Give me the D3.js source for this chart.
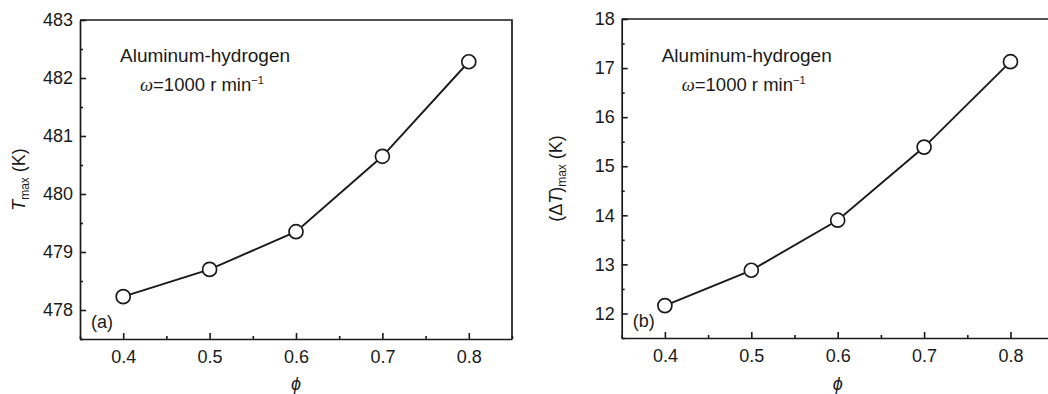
<!DOCTYPE html>
<html>
<head>
<meta charset="utf-8">
<script src="https://cdn.jsdelivr.net/npm/d3@7"></script>
<style>
  html, body { margin: 0; padding: 0; background: #fff; }
  svg { display: block; }
  text { font-family: "Liberation Sans", Arial, sans-serif; fill: #1a1a1a; }
</style>
</head>
<body>
<svg id="chart" width="1048" height="394"></svg>
<script>
// ---- data ----
const phi = [0.4, 0.5, 0.6, 0.7, 0.8];
const tMax = [478.23, 478.70, 479.35, 480.65, 482.28];
const dTMax = [12.16, 12.88, 13.90, 15.39, 17.13];
const xTicks = [0.4, 0.5, 0.6, 0.7, 0.8];
const yTicksA = [478, 479, 480, 481, 482, 483];
const yTicksB = [12, 13, 14, 15, 16, 17, 18];
const annotLine1 = "Aluminum-hydrogen";
const panelLabels = ["(a)", "(b)"];

const svg = d3.select("#chart");
const ink = "#1a1a1a";

function panel(opts) {
  const { left, right, top, bottom, yDomain, yTicks, values, label, yLabel } = opts;
  const x = d3.scaleLinear().domain([0.35, 0.85]).range([left, right]);
  const y = d3.scaleLinear().domain(yDomain).range([bottom, top]);
  const g = svg.append("g");

  // frame (top and right)
  g.append("path")
    .attr("d", `M${left},${top}H${right}V${bottom}`)
    .attr("fill", "none").attr("stroke", ink).attr("stroke-width", 1.7);

  // minor ticks
  const xMinor = d3.range(0.35, 0.851, 0.05).filter(v => !xTicks.some(t => Math.abs(t - v) < 1e-6));
  const yMinor = d3.range(yDomain[0], yDomain[1] + 0.001, 0.5).filter(v => !yTicks.some(t => Math.abs(t - v) < 1e-6));
  g.append("g").attr("transform", `translate(0,${bottom})`)
    .call(d3.axisBottom(x).tickValues(xMinor).tickSize(-3).tickFormat(""))
    .call(s => s.select(".domain").remove())
    .selectAll("line").attr("stroke", ink).attr("stroke-width", 1.6);
  g.append("g").attr("transform", `translate(${left},0)`)
    .call(d3.axisLeft(y).tickValues(yMinor).tickSize(-3).tickFormat(""))
    .call(s => s.select(".domain").remove())
    .selectAll("line").attr("stroke", ink).attr("stroke-width", 1.6);

  // major axes
  const xa = g.append("g").attr("transform", `translate(0,${bottom})`)
    .call(d3.axisBottom(x).tickValues(xTicks).tickSize(-6).tickSizeOuter(0).tickPadding(11).tickFormat(d3.format(".1f")));
  const ya = g.append("g").attr("transform", `translate(${left},0)`)
    .call(d3.axisLeft(y).tickValues(yTicks).tickSize(-6).tickSizeOuter(0).tickPadding(7).tickFormat(d3.format("d")));
  [xa, ya].forEach(a => {
    a.select(".domain").attr("stroke", ink).attr("stroke-width", 1.7);
    a.selectAll("line").attr("stroke", ink).attr("stroke-width", 1.6);
    a.selectAll("text").attr("font-size", 18).attr("fill", ink)
      .attr("font-family", "'Liberation Sans', Arial, sans-serif");
  });

  // line + markers
  const pts = phi.map((p, i) => [p, values[i]]);
  g.append("path").datum(pts)
    .attr("d", d3.line().x(d => x(d[0])).y(d => y(d[1])))
    .attr("fill", "none").attr("stroke", ink).attr("stroke-width", 1.9);
  g.selectAll("circle").data(pts).join("circle")
    .attr("cx", d => x(d[0])).attr("cy", d => y(d[1])).attr("r", 7)
    .attr("fill", "#fff").attr("stroke", ink).attr("stroke-width", 1.7);

  // annotation
  const ann = g.append("text").attr("x", left + 40).attr("y", 62).attr("font-size", 19);
  ann.text(annotLine1);
  const ann2 = g.append("text").attr("x", left + 60).attr("y", 91).attr("font-size", 18.5);
  ann2.append("tspan").attr("font-family", "'Liberation Serif', 'Times New Roman', serif")
    .attr("font-style", "italic").text("ω");
  ann2.append("tspan").text("=1000 r min");
  ann2.append("tspan").attr("font-size", 11).attr("dy", -7).text("−1");

  // panel label
  g.append("text").attr("x", left + 11).attr("y", bottom - 11).attr("font-size", 18).text(label);

  // x label
  g.append("text").attr("x", (left + right) / 2).attr("y", 390)
    .attr("text-anchor", "middle").attr("font-size", 18)
    .attr("font-family", "'Liberation Serif', 'Times New Roman', serif")
    .attr("font-style", "italic").text("ϕ");

  // y label
  const yl = g.append("text")
    .attr("transform", `translate(${yLabel.x},${(top + bottom) / 2}) rotate(-90)`)
    .attr("text-anchor", "middle").attr("font-size", 18);
  yLabel.build(yl);
}

panel({
  left: 80, right: 512, top: 20, bottom: 339,
  yDomain: [477.5, 483], yTicks: yTicksA, values: tMax, label: panelLabels[0],
  yLabel: {
    x: 25,
    build: t => {
      t.append("tspan").attr("font-style", "italic").text("T");
      t.append("tspan").attr("font-size", 12).attr("dy", 4).text("max");
      t.append("tspan").attr("dy", -4).text(" (K)");
    }
  }
});

panel({
  left: 621.7, right: 1053.7, top: 19, bottom: 338,
  yDomain: [11.5, 18], yTicks: yTicksB, values: dTMax, label: panelLabels[1],
  yLabel: {
    x: 562,
    build: t => {
      t.append("tspan").text("(Δ");
      t.append("tspan").attr("font-style", "italic").text("T");
      t.append("tspan").text(")");
      t.append("tspan").attr("font-size", 12).attr("dy", 4).text("max");
      t.append("tspan").attr("dy", -4).text(" (K)");
    }
  }
});
</script>
</body>
</html>
